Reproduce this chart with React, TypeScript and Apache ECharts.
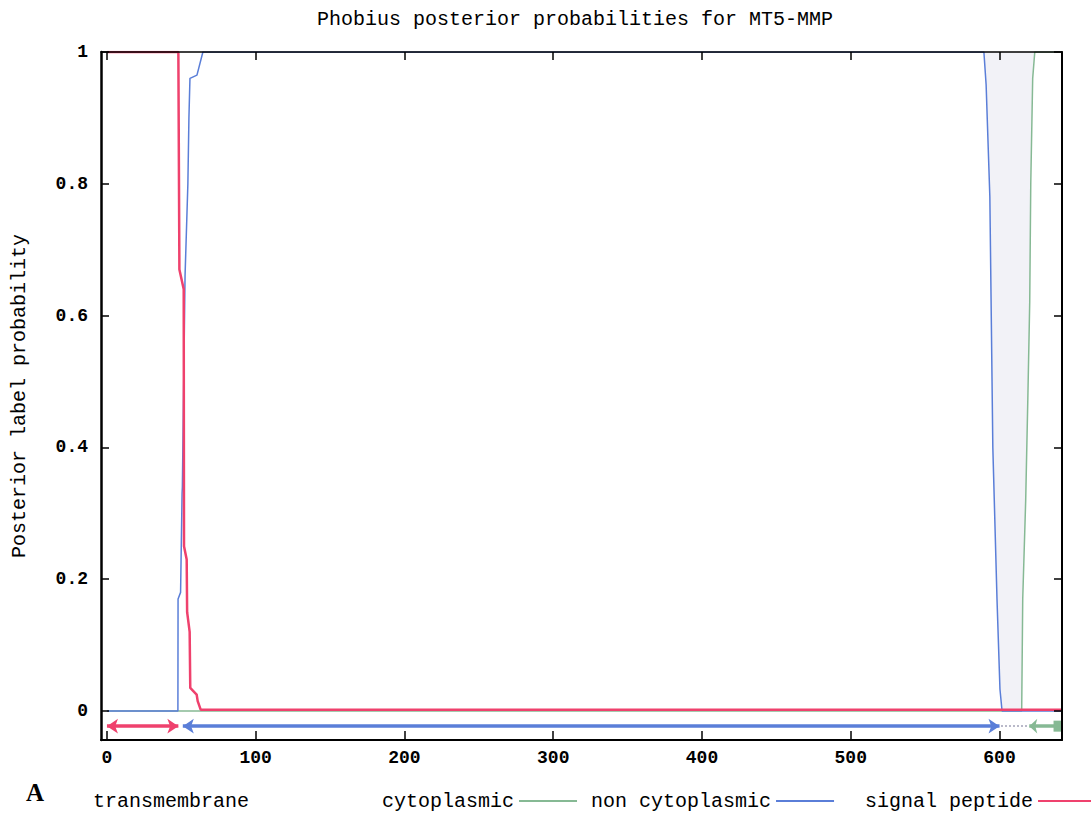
import React, { useEffect, useRef } from 'react';
import * as echarts from 'echarts';

// Axis extents and ticks
const xMin = -4;
const xMax = 642;
const yMin = -0.044;
const yMax = 1;
const xTicks = [0, 100, 200, 300, 400, 500, 600];
const yTicks = [0, 0.2, 0.4, 0.6, 0.8, 1];

// transmembrane probability
const tmX = [0, 589.5, 591, 593.5, 595.5, 598.3, 600.3, 601.7, 614.9, 615.6, 617.6, 619, 620.3, 621, 622.3, 623.7, 642];
const tmY = [0, 0, 0.05, 0.22, 0.6, 0.83, 0.967, 1, 1, 0.83, 0.68, 0.53, 0.38, 0.2, 0.04, 0, 0];
// cytoplasmic
const cyX = [0, 614.9, 615.6, 617.6, 619, 620.3, 621, 622.3, 623.7, 642];
const cyY = [0, 0, 0.17, 0.32, 0.47, 0.62, 0.8, 0.96, 1, 1];
// non cytoplasmic
const ncX = [0, 47.7, 47.8, 49.5, 50.5, 50.7, 51.6, 52.5, 54.4, 55.1, 55.8, 60.5, 64.5, 589.5, 591, 593.5, 595.5, 598.3, 600.3, 601.7, 642];
const ncY = [0, 0, 0.17, 0.18, 0.33, 0.34, 0.5, 0.66, 0.8, 0.9, 0.96, 0.965, 1, 1, 0.95, 0.78, 0.4, 0.17, 0.033, 0, 0];
// signal peptide
const spX = [0, 48, 48.7, 51.6, 51.8, 53.6, 53.9, 55.6, 56, 60.3, 61, 63, 642];
const spY = [1, 1, 0.67, 0.64, 0.25, 0.23, 0.15, 0.12, 0.035, 0.025, 0.015, 0.002, 0.002];

// predicted topology segments
const segNames = ['signal peptide', 'non cytoplasmic', 'transmembrane', 'cytoplasmic'];
const segStart = [0, 51, 601, 620];
const segEnd = [48, 600, 619, 639];
const segRow = -0.023;

const names = ['transmembrane', 'cytoplasmic', 'non cytoplasmic', 'signal peptide'];
const colors: Record<string, string> = {
  'transmembrane': '#b9b9c9',
  'cytoplasmic': '#86b994',
  'non cytoplasmic': '#5a7ed8',
  'signal peptide': '#ef416d',
};
const legendLeft = [93, 382, 591, 865];

const MONO = "'Liberation Mono', 'DejaVu Sans Mono', monospace";

function pairs(xs: number[], ys: number[]) {
  return xs.map((x, i) => [x, ys[i]]);
}

function segMark(name: string) {
  const i = segNames.indexOf(name);
  const isTm = name === 'transmembrane';
  const isCyto = name === 'cytoplasmic';
  return {
    silent: true,
    symbol: isTm ? ['none', 'none'] : isCyto ? ['arrow', 'rect'] : ['arrow', 'arrow'],
    symbolSize: isCyto ? [11, 8] : 11,
    label: { show: false },
    lineStyle: {
      color: colors[name],
      width: isTm ? 2 : 3.5,
      type: isTm ? 'dotted' : 'solid',
      opacity: 1,
    },
    data: [[{ coord: [segStart[i], segRow] }, { coord: [segEnd[i], segRow] }]],
  };
}

const option: any = {
  animation: false,
  backgroundColor: '#fff',
  title: {
    text: 'Phobius posterior probabilities for MT5-MMP',
    left: 570,
    top: 4,
    textAlign: 'center',
    textStyle: { fontFamily: MONO, fontSize: 20, fontWeight: 'normal', color: '#000' },
  },
  legend: names.map((n, i) => ({
    data: [
      n === 'transmembrane'
        ? { name: n, icon: 'rect', itemStyle: { opacity: 0 } }
        : { name: n, icon: 'rect' },
    ],
    left: legendLeft[i],
    top: 791,
    padding: 0,
    align: 'right',
    itemWidth: 58,
    itemHeight: 2,
    selectedMode: false,
    textStyle: { fontFamily: MONO, fontSize: 20, color: '#000' },
  })),
  grid: { left: 101, right: 29, top: 52, bottom: 76 },
  xAxis: [
    {
      type: 'value',
      position: 'bottom',
      min: xMin,
      max: xMax,
      z: 10,
      splitLine: { show: false },
      axisLine: { show: true, onZero: false, lineStyle: { color: '#000', width: 2 } },
      axisTick: { show: true, inside: true, length: 9, customValues: xTicks, lineStyle: { color: '#000', width: 1.5 } },
      axisLabel: {
        customValues: xTicks,
        margin: 9,
        fontFamily: MONO,
        fontSize: 18,
        fontWeight: 'bold',
        color: '#000',
      },
    },
    {
      type: 'value',
      position: 'top',
      min: xMin,
      max: xMax,
      z: 10,
      splitLine: { show: false },
      axisLine: { show: true, onZero: false, lineStyle: { color: '#000', width: 1.5 } },
      axisTick: { show: true, inside: true, length: 8, customValues: xTicks, lineStyle: { color: '#000', width: 1.5 } },
      axisLabel: { show: false },
    },
  ],
  yAxis: [
    {
      type: 'value',
      position: 'left',
      min: yMin,
      max: yMax,
      z: 10,
      splitLine: { show: false },
      name: 'Posterior label probability',
      nameLocation: 'middle',
      nameGap: 72,
      nameRotate: 90,
      nameTextStyle: { fontFamily: MONO, fontSize: 20, color: '#000' },
      axisLine: { show: true, onZero: false, lineStyle: { color: '#000', width: 2.5 } },
      axisTick: { show: true, inside: true, length: 8, customValues: yTicks, lineStyle: { color: '#000', width: 1.5 } },
      axisLabel: {
        customValues: yTicks,
        margin: 13,
        fontFamily: MONO,
        fontSize: 18,
        fontWeight: 'bold',
        color: '#000',
      },
    },
    {
      type: 'value',
      position: 'right',
      min: yMin,
      max: yMax,
      z: 10,
      splitLine: { show: false },
      axisLine: { show: true, onZero: false, lineStyle: { color: '#000', width: 2 } },
      axisTick: { show: true, inside: true, length: 8, customValues: yTicks, lineStyle: { color: '#000', width: 1.5 } },
      axisLabel: { show: false },
    },
  ],
  graphic: [
    {
      type: 'text',
      x: 26,
      y: 780,
      style: {
        text: 'A',
        font: "bold 25px 'Liberation Serif', 'DejaVu Serif', serif",
        fill: '#000',
      },
    },
  ],
  series: [
    {
      // transmembrane region is shaded from (1 - p) up to 1
      name: 'transmembrane',
      type: 'line',
      data: tmX.map((x, i) => [x, 1 - tmY[i]]),
      showSymbol: false,
      symbol: 'none',
      color: colors['transmembrane'],
      itemStyle: { color: colors['transmembrane'] },
      lineStyle: { width: 0, opacity: 0 },
      areaStyle: { color: 'rgba(165,165,200,0.2)', origin: 'end' },
      markLine: segMark('transmembrane'),
      z: 1,
    },
    {
      name: 'cytoplasmic',
      type: 'line',
      data: pairs(cyX, cyY),
      showSymbol: false,
      symbol: 'none',
      color: colors['cytoplasmic'],
      itemStyle: { color: colors['cytoplasmic'] },
      lineStyle: { width: 1.5, color: colors['cytoplasmic'] },
      markLine: segMark('cytoplasmic'),
      z: 2,
    },
    {
      name: 'non cytoplasmic',
      type: 'line',
      data: pairs(ncX, ncY),
      showSymbol: false,
      symbol: 'none',
      color: colors['non cytoplasmic'],
      itemStyle: { color: colors['non cytoplasmic'] },
      lineStyle: { width: 1.5, color: colors['non cytoplasmic'] },
      markLine: segMark('non cytoplasmic'),
      z: 3,
    },
    {
      name: 'signal peptide',
      type: 'line',
      data: pairs(spX, spY),
      showSymbol: false,
      symbol: 'none',
      color: colors['signal peptide'],
      itemStyle: { color: colors['signal peptide'] },
      lineStyle: { width: 2.5, color: colors['signal peptide'] },
      markLine: segMark('signal peptide'),
      z: 4,
    },
  ],
};

export default function App() {
  const ref = useRef<HTMLDivElement>(null);
  useEffect(() => {
    document.body.style.margin = '0';
    const chart = echarts.init(ref.current!, null, { renderer: 'svg' });
    chart.setOption(option);
    return () => chart.dispose();
  }, []);
  return <div ref={ref} style={{ width: 1091, height: 816 }} />;
}
